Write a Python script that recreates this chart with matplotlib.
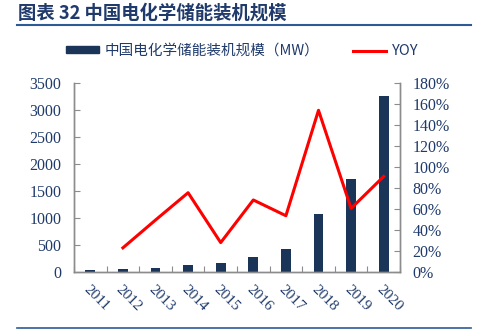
import matplotlib
matplotlib.use("Agg")
import matplotlib.pyplot as plt
from matplotlib.lines import Line2D
from matplotlib.patches import Patch
import numpy as np

years = ["2011", "2012", "2013", "2014", "2015", "2016", "2017", "2018", "2019", "2020"]
capacity_mw = [45, 56, 80, 135, 172, 278, 426, 1074, 1717, 3265]
yoy_pct = [None, 23, 49.5, 75.5, 28, 68.6, 53.6, 154, 60.6, 91]

title = "图表 32 中国电化学储能装机规模"
bar_label = "中国电化学储能装机规模（MW）"
line_label = "YOY"

navy = "#1B3558"
txt = "#1F3A6B"
red = "#FF0000"
spine_c = "#8C8C8C"

fig = plt.figure(figsize=(4.84, 3.35), dpi=100)
W, H = 484, 335
ax = fig.add_axes([74 / W, 1 - 272 / H, (400 - 74) / W, (272 - 83) / H])
ax2 = ax.twinx()

x = np.arange(len(years))
ax.bar(x, capacity_mw, width=0.3, color=navy, zorder=2)
ax.set_xlim(-0.5, len(years) - 0.5)
ax.set_ylim(0, 3500)
ax.set_yticks(np.arange(0, 3501, 500))

yx = [i for i, v in zip(x, yoy_pct) if v is not None]
yv = [v for v in yoy_pct if v is not None]
ax2.plot(yx, yv, color=red, lw=2.2, zorder=3)
ax2.set_ylim(0, 180)
ax2.set_yticks(np.arange(0, 181, 20))
ax2.set_yticklabels([f"{v}%" for v in range(0, 181, 20)])

serif = ["Liberation Serif", "DejaVu Serif"]
for a in (ax, ax2):
    a.spines["top"].set_visible(False)
    for s in ("left", "right", "bottom"):
        a.spines[s].set_color(spine_c)
        a.spines[s].set_linewidth(1.0)
    a.tick_params(axis="y", direction="in", length=4, color=spine_c, labelsize=11.5, labelcolor=txt, pad=9)
    for lab in a.get_yticklabels():
        lab.set_fontfamily(serif)

ax.set_xticks(np.arange(-0.5, len(years), 1), minor=False)
ax.set_xticklabels([])
ax.tick_params(axis="x", which="major", direction="in", length=4, color=spine_c)
ax.set_xticks(x, minor=True)
ax.set_xticklabels(years, minor=True, rotation=-45, ha="left", va="top",
                   rotation_mode="anchor", fontfamily=serif, fontsize=11, color=txt)
ax.tick_params(axis="x", which="minor", length=0, pad=8)

# Title and rules
fig.text(18 / W, 1 - 13 / H, title, fontsize=13.2, fontweight="bold", color=txt,
         fontfamily=["Noto Sans CJK SC", "DejaVu Sans"], va="center", ha="left")
fig.add_artist(Line2D([17 / W, 471 / W], [1 - 24.5 / H, 1 - 24.5 / H], color="#2D5B96", lw=1.5))
fig.add_artist(Line2D([17 / W, 471 / W], [1 - 328 / H, 1 - 328 / H], color="#2D5B96", lw=1.2))

# Legend
handles = [Patch(facecolor=navy, edgecolor=navy), Line2D([0], [0], color=red, lw=2.2)]
fig.legend(handles, [bar_label, line_label], loc="center", bbox_to_anchor=(242 / W, 1 - 51 / H),
           ncol=2, frameon=False, handlelength=2.3, handleheight=0.35, columnspacing=2.3,
           handletextpad=0.35, prop={"family": ["Noto Sans CJK SC", "DejaVu Sans"], "size": 10.5},
           labelcolor=txt)

fig.savefig("out.png", dpi=100)
